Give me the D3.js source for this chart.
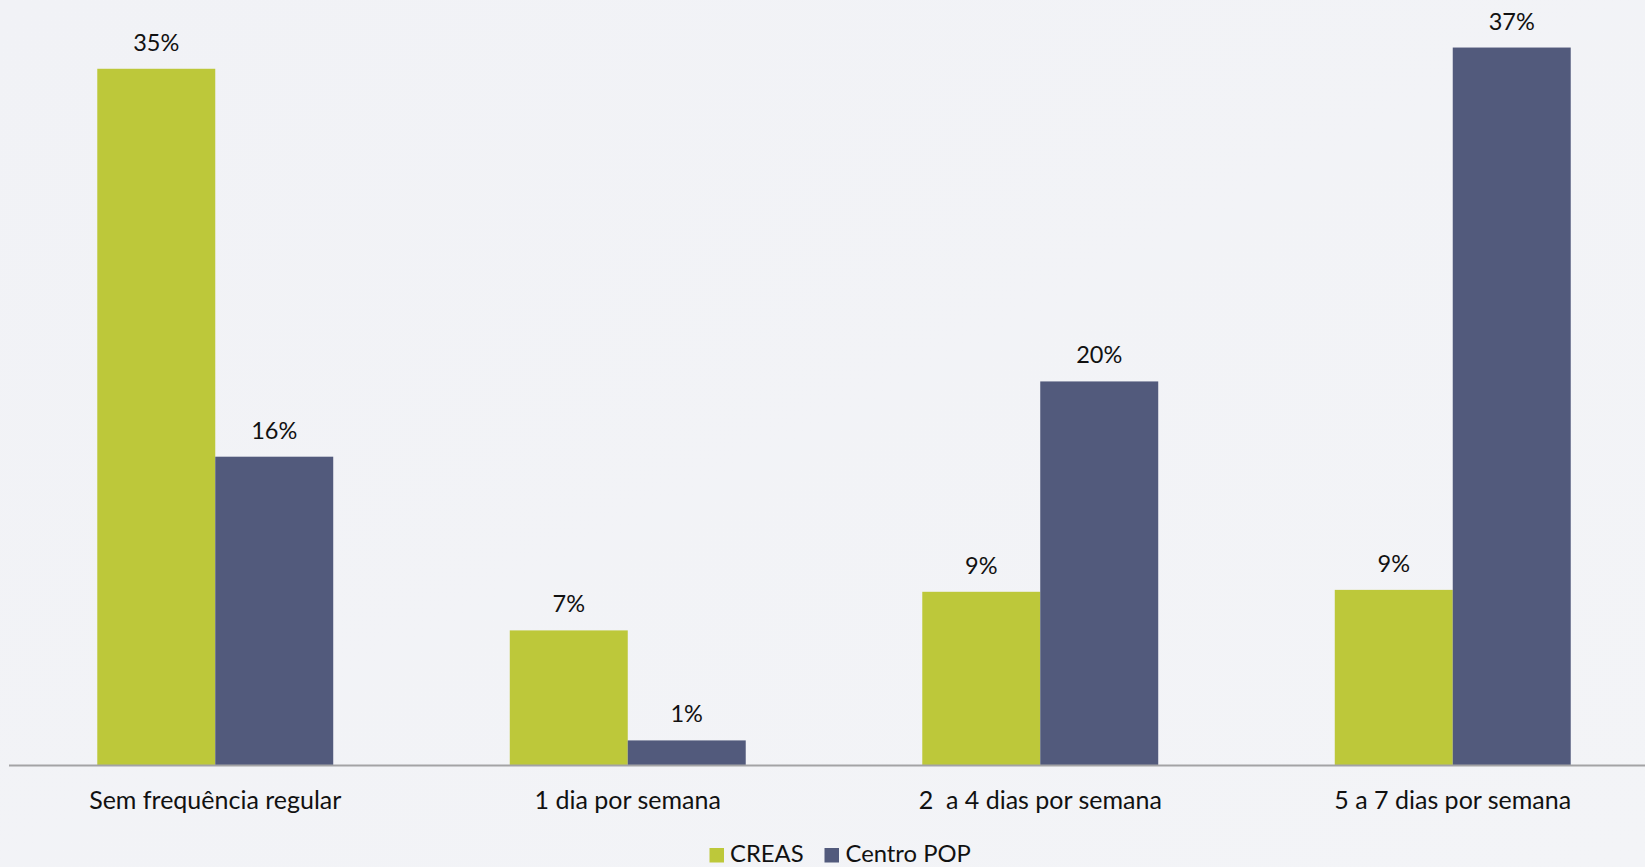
<!DOCTYPE html>
<html>
<head>
<meta charset="utf-8">
<script src="https://cdn.jsdelivr.net/npm/d3@7"></script>
<style>
  html, body { margin: 0; padding: 0; background: #F2F3F6; }
  svg { display: block; }
  text { font-family: Lato, "Open Sans", sans-serif; fill: #111; }
</style>
</head>
<body>
<svg id="chart" width="1645" height="867"></svg>
<script>
const categories = ["Sem frequência regular", "1 dia por semana", "2  a 4 dias por semana", "5 a 7 dias por semana"];
const seriesNames = ["CREAS", "Centro POP"];
const creasValues = [36.1, 7.0, 9.0, 9.1];
const popValues = [16.0, 1.3, 19.9, 37.2];
const creasLabels = ["35%", "7%", "9%", "9%"];
const popLabels = ["16%", "1%", "20%", "37%"];
const colors = ["#BDC83A", "#525A7C"];

const W = 1645, H = 867;
const svg = d3.select("#chart");

const defs = svg.append("defs");
const grad = defs.append("linearGradient").attr("id", "bg")
  .attr("x1", "0%").attr("y1", "0%").attr("x2", "100%").attr("y2", "100%");
grad.append("stop").attr("offset", "0%").attr("stop-color", "#F1F2F6");
grad.append("stop").attr("offset", "100%").attr("stop-color", "#F3F4F7");
svg.append("rect").attr("width", W).attr("height", H).attr("fill", "url(#bg)");

const baseY = 765.5;
const x0 = d3.scaleBand().domain(categories).range([9, 1659])
  .paddingInner(0.428).paddingOuter(0.214);
const x1 = d3.scaleBand().domain(seriesNames).range([0, x0.bandwidth()]).padding(0);
const y = d3.scaleLinear().domain([0, 40]).range([baseY, baseY - 40 * 19.3]);

const rows = categories.map((c, i) => ({
  cat: c,
  vals: [
    { s: seriesNames[0], v: creasValues[i], lab: creasLabels[i], col: colors[0] },
    { s: seriesNames[1], v: popValues[i], lab: popLabels[i], col: colors[1] }
  ]
}));

const g = svg.append("g");
const groups = g.selectAll("g.grp").data(rows).join("g")
  .attr("class", "grp")
  .attr("transform", d => `translate(${x0(d.cat)},0)`);

groups.selectAll("rect").data(d => d.vals).join("rect")
  .attr("x", d => x1(d.s))
  .attr("y", d => y(d.v))
  .attr("width", x1.bandwidth())
  .attr("height", d => baseY - y(d.v))
  .attr("fill", d => d.col);

groups.selectAll("text.val").data(d => d.vals).join("text")
  .attr("class", "val")
  .attr("x", d => x1(d.s) + x1.bandwidth() / 2)
  .attr("y", d => y(d.v) - 18)
  .attr("text-anchor", "middle")
  .attr("font-size", 23.5)
  .text(d => d.lab);

const xAxis = d3.axisBottom(x0).tickSize(0).tickPadding(0);
const ax = svg.append("g").attr("transform", `translate(0,${baseY})`).call(xAxis);
ax.select(".domain").attr("d", `M9,0H${W}`).attr("stroke", "#A3A3A5").attr("stroke-width", 2);
ax.selectAll(".tick text")
  .attr("y", 43.5).attr("dy", 0)
  .attr("font-size", 25)
  .attr("fill", "#111")
  .style("font-family", "Lato, 'Open Sans', sans-serif")
  .style("white-space", "pre");

const legend = svg.append("g");
const legendItems = [
  { name: seriesNames[0], col: colors[0], sx: 709.5, tx: 730 },
  { name: seriesNames[1], col: colors[1], sx: 824.5, tx: 845.5 }
];
legendItems.forEach(it => {
  legend.append("rect").attr("x", it.sx).attr("y", 848).attr("width", 14.5).attr("height", 14.5).attr("fill", it.col);
  legend.append("text").attr("x", it.tx).attr("y", 861.5).attr("font-size", 23.8).text(it.name);
});
</script>
</body>
</html>
